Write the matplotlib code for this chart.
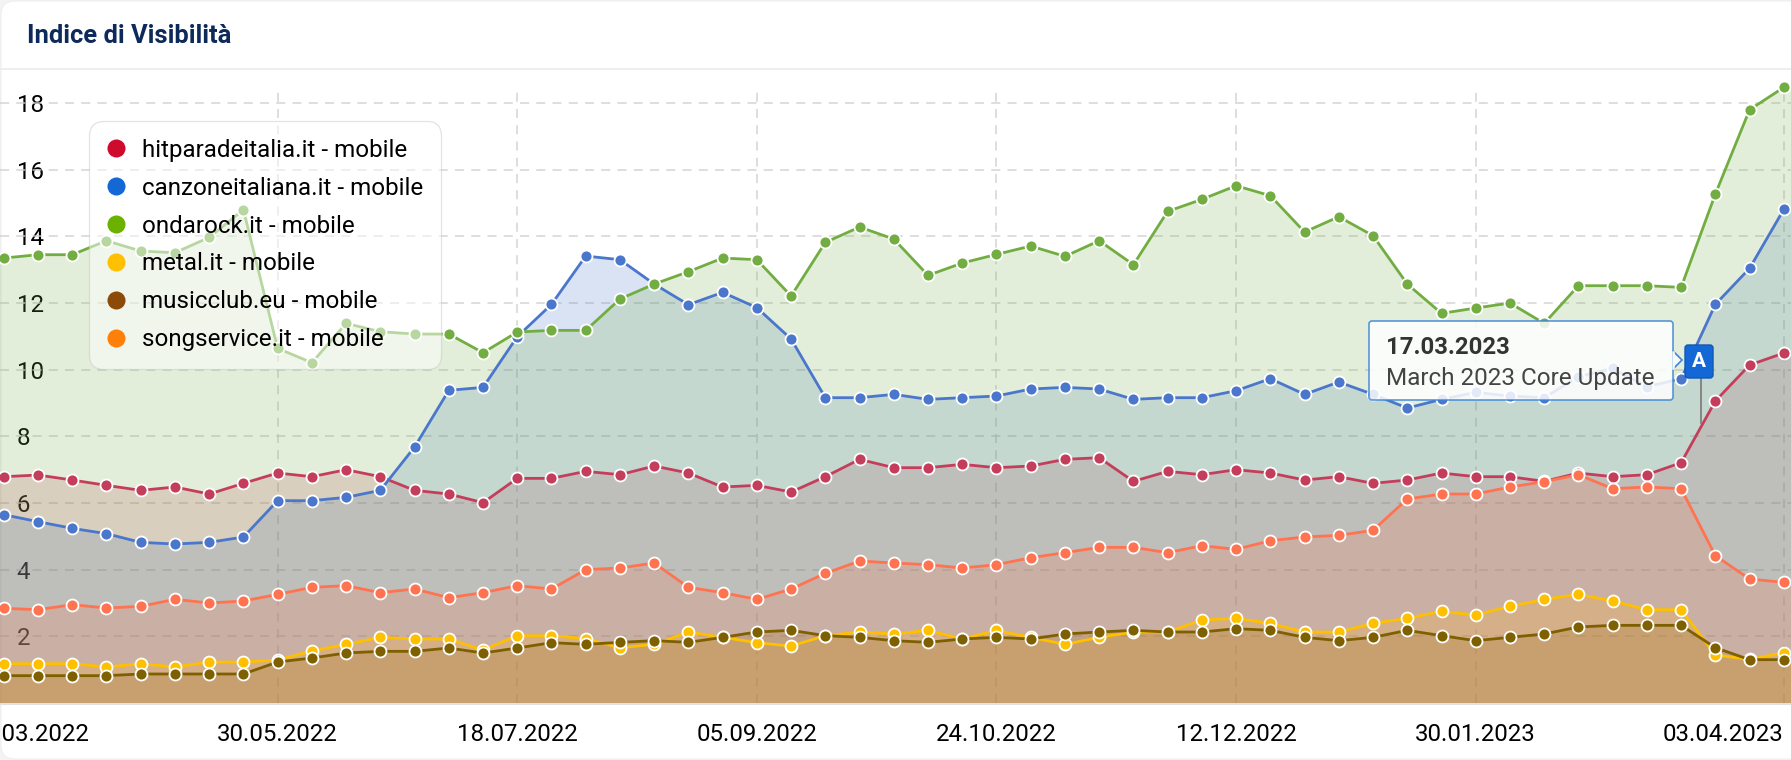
import matplotlib
matplotlib.use("Agg")
import matplotlib.pyplot as plt
from matplotlib.lines import Line2D
from matplotlib.patches import FancyBboxPatch, Polygon
import numpy as np

plt.rcParams['font.family'] = ['Roboto', 'DejaVu Sans']

# Weekly index, one point off each edge of the picture
weeks = np.arange(-1, 54)

hitparade = [6.79, 6.79, 6.84, 6.69, 6.53, 6.38, 6.48, 6.27, 6.59, 6.90, 6.79, 7.00, 6.79, 6.38, 6.27, 6.01, 6.74, 6.74, 6.95,
             6.85, 7.11, 6.90, 6.48, 6.53, 6.33, 6.79, 7.31, 7.06, 7.06, 7.16, 7.06, 7.11, 7.31, 7.36, 6.65, 6.95, 6.85,
             7.00, 6.90, 6.69, 6.79, 6.59, 6.69, 6.90, 6.79, 6.79, 6.65, 6.90, 6.79, 6.85, 7.21, 9.06, 10.14, 10.50, 10.60]
canzone = [5.70, 5.65, 5.44, 5.24, 5.08, 4.82, 4.77, 4.82, 4.98, 6.07, 6.07, 6.17, 6.38, 7.68, 9.38, 9.47, 10.99, 11.96, 13.41,
           13.30, 12.57, 11.95, 12.32, 11.86, 10.92, 9.16, 9.16, 9.26, 9.11, 9.16, 9.21, 9.42, 9.47, 9.42, 9.11, 9.16, 9.16,
           9.37, 9.73, 9.26, 9.63, 9.26, 8.85, 9.11, 9.32, 9.21, 9.16, 9.79, 10.04, 9.49, 9.73, 11.96, 13.04, 14.81, 14.80]
ondarock = [13.30, 13.35, 13.45, 13.45, 13.87, 13.56, 13.51, 13.97, 14.80, 10.64, 10.21, 11.39, 11.14, 11.07, 11.07, 10.51, 11.13, 11.18, 11.18,
            12.12, 12.57, 12.94, 13.35, 13.30, 12.21, 13.82, 14.28, 13.92, 12.83, 13.20, 13.46, 13.71, 13.40, 13.87, 13.15, 14.75, 15.11,
            15.52, 15.22, 14.13, 14.59, 14.02, 12.57, 11.69, 11.85, 12.00, 11.39, 12.52, 12.52, 12.52, 12.47, 15.27, 17.80, 18.47, 18.45]
metal = [1.18, 1.18, 1.18, 1.18, 1.08, 1.18, 1.08, 1.23, 1.23, 1.29, 1.56, 1.76, 1.97, 1.92, 1.92, 1.59, 2.02, 2.02, 1.93,
         1.66, 1.76, 2.13, 1.97, 1.81, 1.71, 2.02, 2.13, 2.07, 2.18, 1.92, 2.18, 1.97, 1.76, 1.97, 2.13, 2.13, 2.49,
         2.54, 2.39, 2.13, 2.13, 2.39, 2.54, 2.75, 2.64, 2.90, 3.11, 3.26, 3.06, 2.80, 2.80, 1.44, 1.31, 1.51, 1.55]
musicclub = [0.82, 0.82, 0.82, 0.82, 0.82, 0.87, 0.87, 0.87, 0.87, 1.23, 1.35, 1.50, 1.55, 1.55, 1.65, 1.50, 1.65, 1.81, 1.76,
             1.82, 1.87, 1.82, 1.97, 2.13, 2.18, 2.02, 1.97, 1.87, 1.82, 1.92, 1.97, 1.92, 2.07, 2.13, 2.18, 2.13, 2.13,
             2.23, 2.18, 1.97, 1.87, 1.97, 2.18, 2.02, 1.87, 1.97, 2.07, 2.28, 2.33, 2.33, 2.33, 1.66, 1.30, 1.30, 1.30]
songservice = [2.84, 2.84, 2.80, 2.95, 2.85, 2.90, 3.11, 3.00, 3.06, 3.26, 3.47, 3.52, 3.31, 3.42, 3.16, 3.31, 3.52, 3.42, 4.00,
               4.05, 4.20, 3.47, 3.31, 3.11, 3.42, 3.89, 4.26, 4.20, 4.15, 4.05, 4.15, 4.36, 4.51, 4.67, 4.67, 4.51, 4.72,
               4.61, 4.87, 4.98, 5.03, 5.18, 6.12, 6.27, 6.27, 6.48, 6.64, 6.85, 6.43, 6.48, 6.43, 4.42, 3.72, 3.62, 3.60]

names = ['hitparadeitalia.it - mobile', 'canzoneitaliana.it - mobile', 'ondarock.it - mobile',
         'metal.it - mobile', 'musicclub.eu - mobile', 'songservice.it - mobile']
all_series = [hitparade, canzone, ondarock, metal, musicclub, songservice]
line_colors = ['#C43E5C', '#4A76CC', '#72AD42', '#FFC000', '#7F6000', '#FF7350']
legend_colors = ['#CE0A2D', '#1468D6', '#6AB100', '#FFC000', '#8B4A06', '#FF8008']

y_ticks = [2, 4, 6, 8, 10, 12, 14, 16, 18]
tick_weeks = [0.75, 8, 15, 22, 29, 36, 43, 52]
tick_labels = ['28.03.2022', '30.05.2022', '18.07.2022', '05.09.2022', '24.10.2022', '12.12.2022', '30.01.2023', '03.04.2023']
flag_week = 49.57

W, H = 1791, 760
fig = plt.figure(figsize=(W / 100, H / 100), dpi=100, facecolor='#f3f3f3')

# Card behind everything, in pixel coordinates
bg = fig.add_axes([0, 0, 1, 1], zorder=0)
bg.set_xlim(0, W)
bg.set_ylim(H, 0)
bg.axis('off')
bg.add_patch(FancyBboxPatch((1, 1), W + 20, H - 2, boxstyle='round,pad=0,rounding_size=14',
                            fc='white', ec='#eeeeee', lw=0.8))
bg.plot([0, W], [69, 69], color='#eeeeee', lw=1.4)
bg.text(27, 36, 'Indice di Visibilità', fontsize=18.4, fontweight='bold', color='#0E2A5A', va='center')
bg.plot([0, W], [704, 704], color='#e2e2e2', lw=1.5)

# Main chart
ax = fig.add_axes([0, (H - 703) / H, 1, (703 - 75) / H], zorder=1)
ax.patch.set_alpha(0)
ax.set_xlim(-0.111, 52.21)
ax.set_ylim(0, (703 - 75) / 33.33)
for s in ax.spines.values():
    s.set_visible(False)
ax.set_axisbelow(True)

for v in y_ticks:
    ax.axhline(v, color='#cfcfcf', lw=1.3, ls=(0, (5, 4)), alpha=0.75, zorder=0.7)
grid_top = (703 - 87) / 33.33
for t in tick_weeks[1:]:
    ax.plot([t, t], [0, grid_top], color='#cfcfcf', lw=1.3, ls=(0, (5, 4)), alpha=0.75, zorder=0.7)

for i, (vals, col) in enumerate(zip(all_series, line_colors)):
    ax.fill_between(weeks, vals, 0, color=col, alpha=0.2, lw=0, zorder=1 + i * 0.01)
for i, (vals, col) in enumerate(zip(all_series, line_colors)):
    ax.plot(weeks, vals, color=col, lw=2.0, marker='o', ms=8.6, mec='white', mew=1.3,
            zorder=3 + i * 0.1, clip_on=False)

ax.set_yticks(y_ticks)
ax.set_yticklabels([str(v) for v in y_ticks])
ax.tick_params(axis='y', length=0, pad=-12, labelsize=17.3, labelcolor='black')
for lab in ax.get_yticklabels():
    lab.set_ha('left')
ax.set_xticks(tick_weeks)
ax.set_xticklabels(tick_labels)
ax.tick_params(axis='x', length=0, pad=14.5, labelsize=17.3, labelcolor='black')
ax.get_xticklabels()[-1].set_ha('right')

# Overlay for tooltip and flag, also in pixels
top = fig.add_axes([0, 0, 1, 1], zorder=2)
top.set_xlim(0, W)
top.set_ylim(H, 0)
top.axis('off')
top.patch.set_alpha(0)

handles = [Line2D([], [], ls='none', marker='o', ms=13, mfc=c, mec='none') for c in legend_colors]
leg = ax.legend(handles, names, loc='upper left', bbox_to_anchor=(89, 121), bbox_transform=top.transData,
                borderaxespad=0, frameon=True, fancybox=True, framealpha=0.5, edgecolor='#c8c8c8',
                fontsize=17.4, labelspacing=0.615, handletextpad=0.74, handlelength=0.72,
                borderpad=0.74)
leg.set_zorder(20)
frame = leg.get_frame()
frame.set_linewidth(0.9)
frame.set_boxstyle('round', pad=0, rounding_size=0.6)

top.add_patch(FancyBboxPatch((1369, 321), 304, 79, boxstyle='round,pad=0,rounding_size=3',
                             fc='white', ec='#3D85D6', lw=1.2, alpha=0.85))
top.add_patch(Polygon([(1673, 351), (1682, 360), (1673, 369)], closed=True, fc='#f7f9f5', ec='#3D85D6', lw=1.2))
top.plot([1673, 1673], [352, 368], color='#f7f9f5', lw=1.8)
top.text(1386.5, 347.5, '17.03.2023', fontsize=17.2, fontweight='bold', color='#333333', va='center')
top.text(1386.5, 378.5, 'March 2023 Core Update', fontsize=17.5, color='#444444', va='center')

ax.plot([flag_week, flag_week], [(703 - 376) / 33.33, (703 - 423) / 33.33], color='#808080', lw=1.3, zorder=10)
top.add_patch(FancyBboxPatch((1685, 345), 28, 33, boxstyle='round,pad=0,rounding_size=3',
                             fc='#1368D6', ec='#0F57B5', lw=1))
top.text(1699, 361.5, 'A', fontsize=15, fontweight='bold', color='white', ha='center', va='center')

fig.savefig('out.png', dpi=100, facecolor=fig.get_facecolor())
